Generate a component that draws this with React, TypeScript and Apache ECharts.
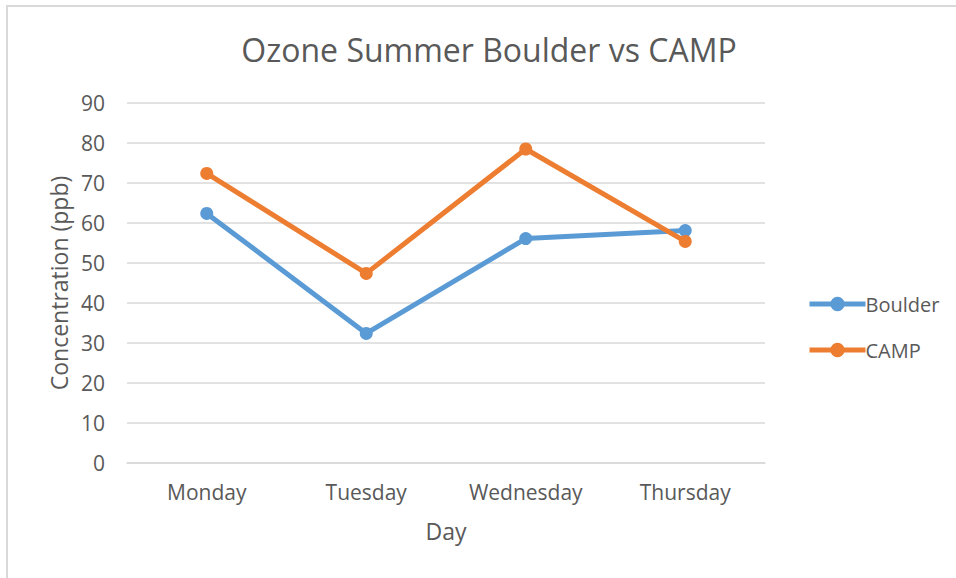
import React, { useEffect, useRef } from "react";
import * as echarts from "echarts";

const categories = ["Monday", "Tuesday", "Wednesday", "Thursday"];
const boulder = [62.4, 32.4, 56.1, 58.1];
const camp = [72.4, 47.4, 78.5, 55.4];
const yMin = 0;
const yMax = 90;
const yInterval = 10;

const FONT = "'Open Sans', sans-serif";
const TEXT = "#595959";

export default function App() {
  const ref = useRef<HTMLDivElement>(null);
  useEffect(() => {
    document.body.style.margin = "0";
    if (!ref.current) return;
    const chart = echarts.init(ref.current, undefined, { renderer: "svg" });
    chart.setOption({
      animation: false,
      backgroundColor: "#ffffff",
      title: {
        text: "Ozone Summer Boulder vs CAMP",
        left: 484,
        textAlign: "center",
        top: 28,
        textStyle: { fontFamily: FONT, fontSize: 32, fontWeight: "normal", color: TEXT },
      },
      graphic: [
        {
          type: "rect",
          shape: { x: 7, y: 6, width: 1200, height: 1200 },
          style: { fill: "none", stroke: "#d9d9d9", lineWidth: 2 },
          silent: true,
        },
      ],
      legend: {
        orient: "vertical",
        left: 802,
        top: 289,
        itemWidth: 56,
        itemHeight: 18,
        itemGap: 26,
        lineStyle: { width: 5 },
        textStyle: { fontFamily: FONT, fontSize: 20, lineHeight: 18, color: TEXT, padding: [0, 0, 0, -5] },
        data: ["Boulder", "CAMP"],
      },
      grid: { left: 127, right: 191, top: 103, bottom: 115, containLabel: false },
      xAxis: {
        type: "category",
        data: categories,
        boundaryGap: true,
        name: "Day",
        nameLocation: "middle",
        nameGap: 56,
        nameTextStyle: { fontFamily: FONT, fontSize: 23, color: TEXT },
        axisLine: { show: true, lineStyle: { color: "#d9d9d9", width: 1.5 } },
        axisTick: { show: false },
        axisLabel: { fontFamily: FONT, fontSize: 21, color: TEXT, margin: 18 },
      },
      yAxis: {
        type: "value",
        min: yMin,
        max: yMax,
        interval: yInterval,
        name: "Concentration (ppb)",
        nameLocation: "middle",
        nameGap: 57,
        nameTextStyle: { fontFamily: FONT, fontSize: 23, color: TEXT },
        axisLine: { show: false },
        axisTick: { show: false },
        axisLabel: { fontFamily: FONT, fontSize: 21, color: TEXT, margin: 22 },
        splitLine: { lineStyle: { color: "#d9d9d9", width: 1.5 } },
      },
      series: [
        {
          name: "Boulder",
          type: "line",
          data: boulder,
          symbol: "circle",
          symbolSize: 13,
          lineStyle: { width: 5, color: "#5B9BD5" },
          itemStyle: { color: "#5B9BD5" },
        },
        {
          name: "CAMP",
          type: "line",
          data: camp,
          symbol: "circle",
          symbolSize: 13,
          lineStyle: { width: 5, color: "#ED7D31" },
          itemStyle: { color: "#ED7D31" },
        },
      ],
    });
    return () => chart.dispose();
  }, []);
  return <div ref={ref} style={{ width: 956, height: 578 }} />;
}
